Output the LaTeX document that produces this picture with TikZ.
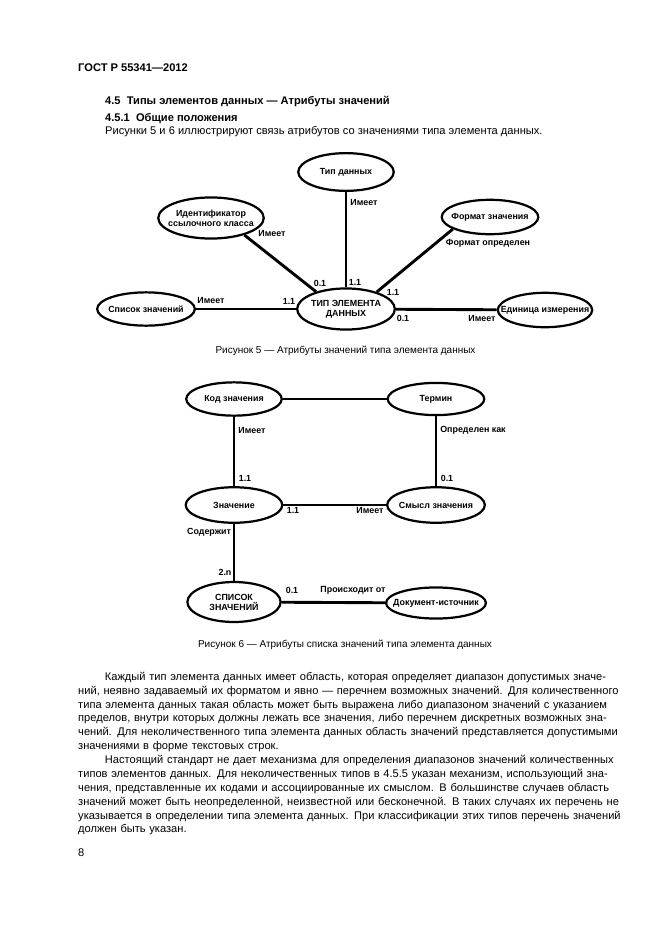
\documentclass[tikz,border=0pt]{standalone}
\usepackage{fontspec}
\setmainfont{Liberation Sans}
\usetikzlibrary{shapes.geometric}

% one justified line of the running text
\newcommand{\fullline}[2][481pt]{\makebox[#1][s]{#2}}

\begin{document}
\begin{tikzpicture}[
    x=0.9006pt, y=-0.9006pt,
    every node/.style={inner sep=0pt},
    ent/.style={draw=black, line width=2pt, ellipse, inner sep=-16pt,
                align=center, font=\fontsize{8}{9}\selectfont\bfseries},
    rel/.style={font=\fontsize{8}{9}\selectfont\bfseries},
    thickln/.style={line width=2.6pt},
    thinln/.style={line width=1pt},
    figcap/.style={font=\fontsize{9}{11}\selectfont},
    bodytext/.style={font=\fontsize{10}{12.5}\selectfont, anchor=base west},
    headtext/.style={font=\fontsize{10}{12.5}\selectfont\bfseries, anchor=base west}
]
\useasboundingbox (0,0) rectangle (661,935);

% --- Page head ---
\node[headtext] (gost)   at (78,71)  {ГОСТ Р 55341—2012};
\node[headtext] (sec)    at (105,104) {4.5\ \ Типы элементов данных — Атрибуты значений};
\node[headtext] (subsec) at (105,121) {4.5.1\ \ Общие положения};
\node[bodytext] (intro)  at (105,134) {Рисунки 5 и 6 иллюстрируют связь атрибутов со значениями типа элемента данных.};

% --- Figure 5 ---
\node[ent, minimum width=86pt, minimum height=34pt] (dtype) at (346,172) {Тип данных};
\node[ent, minimum width=95pt, minimum height=37pt] (refid) at (211,218) {Идентификатор\\ссылочного класса};
\node[ent, minimum width=87pt, minimum height=31pt] (fmt)   at (490,217) {Формат значения};
\node[ent, minimum width=88pt, minimum height=30pt] (vlist) at (146,309) {Список значений};
\node[ent, minimum width=88pt, minimum height=37pt] (det)   at (346,309) {ТИП ЭЛЕМЕНТА\\ДАННЫХ};
\node[ent, minimum width=85pt, minimum height=31pt] (unit)  at (545,310) {Единица измерения};

\draw[thickln] (refid.333) -- (det.150);
\draw[thinln]  (dtype) -- (det);
\draw[thickln] (fmt.198) -- (det.29);
\draw[thickln] (vlist) -- (det);
\draw[thickln] (det) -- (unit);

\node[rel] (r-refid)  at (272,233) {Имеет};
\node[rel] (c-refid)  at (320,283) {0.1};
\node[rel] (r-dtype)  at (364,202) {Имеет};
\node[rel] (c-dtype)  at (355,282) {1.1};
\node[rel] (r-fmt)    at (488,243) {Формат определен};
\node[rel] (c-fmt)    at (393,292) {1.1};
\node[rel] (r-vlist)  at (211,300) {Имеет};
\node[rel] (c-vlist)  at (289,301) {1.1};
\node[rel] (c-unit)   at (403,318) {0.1};
\node[rel] (r-unit)   at (482,318) {Имеет};

\node[figcap] (cap5) at (345.5,351) {Рисунок 5 — Атрибуты значений типа элемента данных};

% --- Figure 6 ---
\node[ent, minimum width=86pt, minimum height=30pt] (code) at (234,399) {Код значения};
\node[ent, minimum width=87pt, minimum height=29pt] (term) at (436,399) {Термин};
\node[ent, minimum width=87pt, minimum height=32pt] (val)  at (234,505) {Значение};
\node[ent, minimum width=88pt, minimum height=32pt] (mean) at (436,505) {Смысл значения};
\node[ent, minimum width=84pt, minimum height=36pt] (list) at (234,602) {СПИСОК\\ЗНАЧЕНИЙ};
\node[ent, minimum width=90pt, minimum height=28pt] (src)  at (436,603) {Документ-источник};

\draw[thinln]  (code) -- (term);
\draw[thinln]  (term) -- (mean);
\draw[thickln] (code) -- (val);
\draw[thickln] (val) -- (mean);
\draw[thickln] (val) -- (list);
\draw[thickln] (list) -- (src);

\node[rel] (r-code)  at (252,430) {Имеет};
\node[rel] (c-code)  at (245,478) {1.1};
\node[rel] (r-term)  at (473,430) {Определен как};
\node[rel] (c-term)  at (447,478) {0.1};
\node[rel] (c-mean)  at (293,510) {1.1};
\node[rel] (r-mean)  at (370,510) {Имеет};
\node[rel] (r-list)  at (209,532) {Содержит};
\node[rel] (c-list)  at (225,572) {2.n};
\node[rel] (c-src)   at (292,590) {0.1};
\node[rel] (r-src)   at (353,590) {Происходит от};

\node[figcap] (cap6) at (345,645) {Рисунок 6 — Атрибуты списка значений типа элемента данных};

% --- Running text ---
\node[font=\fontsize{10}{12.5}\selectfont, anchor=north west, align=left, text width=481pt]
     (para) at (78,670.3) {\strut\hspace*{24pt}\fullline[457pt]{Каждый тип элемента данных имеет область, которая определяет диапазон допустимых значе-}\\
    \fullline{ний, неявно задаваемый их форматом и явно — перечнем возможных значений. Для количественного}\\
    \fullline{типа элемента данных такая область может быть выражена либо диапазоном значений с указанием}\\
    \fullline{пределов, внутри которых должны лежать все значения, либо перечнем дискретных возможных зна-}\\
    \fullline{чений. Для неколичественного типа элемента данных область значений представляется допустимыми}\\
    значениями в форме текстовых строк.\\
    \hspace*{24pt}\fullline[457pt]{Настоящий стандарт не дает механизма для определения диапазонов значений количественных}\\
    \fullline{типов элементов данных. Для неколичественных типов в 4.5.5 указан механизм, использующий зна-}\\
    \fullline{чения, представленные их кодами и ассоциированные их смыслом. В большинстве случаев область}\\
    \fullline{значений может быть неопределенной, неизвестной или бесконечной. В таких случаях их перечень не}\\
    \fullline{указывается в определении типа элемента данных. При классификации этих типов перечень значений}\\
    должен быть указан.};

\node[bodytext] (pagenum) at (78,856) {8};

\end{tikzpicture}
\end{document}
